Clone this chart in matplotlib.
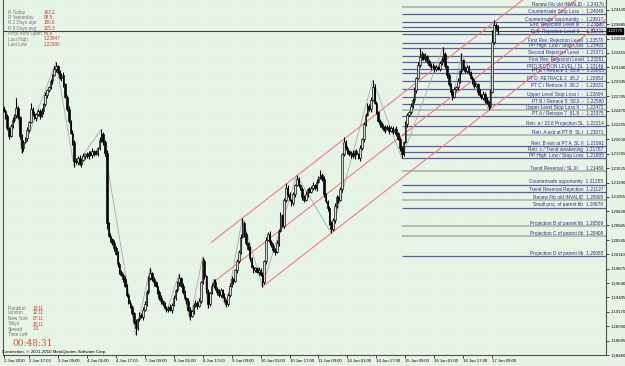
import numpy as np
import matplotlib.pyplot as plt

plt.rcParams['font.family'] = ['Liberation Sans', 'DejaVu Sans']

BASE = 1.18  # prices below are pips above this

# hourly closes, 2 Jun 2010 03:00 .. 17 Jun 2010 12:00
close_pips = [
    447, 438, 418, 405, 422, 432, 440, 452, 436, 405,
    385, 395, 402, 415, 428, 450, 442, 435, 441, 446,
    438, 447, 458, 472, 480, 486, 495, 505, 515, 520,
    510, 500, 505, 490, 470, 450, 430, 410, 395, 365,
    362, 370, 360, 366, 372, 375, 372, 378, 374, 380,
    376, 378, 385, 398, 408, 395, 378, 262, 242, 236,
    230, 222, 212, 195, 182, 178, 170, 160, 145, 132,
    125, 115, 100, 90, 105, 112, 108, 120, 130, 150,
    172, 180, 170, 165, 160, 150, 140, 135, 130, 123,
    120, 125, 120, 128, 140, 152, 165, 172, 160, 150,
    140, 135, 120, 110, 118, 128, 132, 126, 135, 165,
    200, 175, 150, 130, 148, 160, 165, 155, 150, 145,
    152, 142, 135, 130, 145, 160, 170, 168, 185, 200,
    215, 240, 262, 245, 230, 220, 205, 190, 185, 188,
    182, 186, 178, 165, 200, 235, 245, 232, 225, 218,
    215, 230, 250, 275, 258, 300, 320, 310, 300, 295,
    310, 325, 335, 325, 318, 305, 300, 310, 318, 314,
    320, 325, 320, 330, 338, 342, 335, 310, 298, 288,
    262, 252, 268, 290, 305, 300, 318, 375, 395, 385,
    380, 375, 378, 372, 380, 376, 370, 385, 400, 425,
    440, 455, 450, 465, 485, 460, 445, 430, 425, 420,
    415, 420, 418, 414, 418, 412, 416, 410, 400, 385,
    375, 395, 425, 440, 445, 455, 465, 480, 500, 522,
    535, 540, 532, 536, 528, 522, 518, 520, 515, 518,
    516, 525, 532, 540, 520, 505, 490, 478, 470, 482,
    485, 495, 512, 530, 515, 512, 518, 510, 500, 495,
    488, 490, 478, 472, 468, 475, 465, 460, 455, 478,
    560, 588, 582, 578,
]
first_open = 452
wick_up = ("3242352432 4325243524 3425324253 2435234253 4243524325 3425243524 "
           "2435342523 4325243542 3524253423 4253423524 3245234253 2435243524 "
           "4253245324 3524325243 2435243524 3425342532 4253243524 3524253423 "
           "2435324253 4325342524 3524253243 2435342523 4253243524 3425243524 "
           "2435324253 3524253423 4325243524 3425342532")
wick_dn = ("2435243524 3425324253 4253423524 3245234253 2435243524 4253245324 "
           "3524325243 2435342523 4325243542 3425243524 3524253423 2435324253 "
           "4325342524 3425324253 2435342523 4253243524 3524253243 2435243524 "
           "3425342532 4253423524 3245234253 2435243524 4325243542 3524325243 "
           "2435342523 3425243524 4253245324 2435243524")
high_spikes = {7: 468, 15: 460, 29: 527, 54: 416, 81: 189, 97: 179, 110: 207,
               116: 170, 132: 271, 156: 329, 162: 341, 175: 349, 188: 403,
               204: 497, 230: 550, 243: 551, 253: 541, 270: 579, 271: 596}
low_spikes = {10: 377, 39: 354, 57: 252, 73: 79, 103: 103, 113: 123, 123: 125,
              143: 158, 150: 210, 179: 282, 181: 246, 220: 369, 248: 464, 268: 448}

# zigzag pivots
zz_bars = [7, 10, 29, 39, 54, 73, 81, 90, 97, 103, 110, 113, 116, 123, 132,
           143, 162, 181, 204, 220, 243, 248, 253, 268, 271]
zz_kind = "HLHLHLHLHLHLHLHLHLHLHLHLH"

# regression channel: anchor bar/pips, slope (pips per bar), offsets, start bars
chan_anchor = (143, 158)
chan_slope = 2.311
chan_offsets = [0, 70, 138]
chan_start = [143, 117, 115]

date_bars = [0, 14, 30, 46, 62, 78, 94, 110, 126, 142, 158, 174, 190, 206,
             222, 238, 254, 270]
date_labels = ["2 Jun 2010", "2 Jun 17:00", "3 Jun 09:00", "4 Jun 01:00",
               "4 Jun 17:00", "7 Jun 09:00", "8 Jun 01:00", "8 Jun 17:00",
               "9 Jun 09:00", "10 Jun 01:00", "10 Jun 17:00", "11 Jun 09:00",
               "14 Jun 01:00", "14 Jun 17:00", "15 Jun 09:00", "16 Jun 01:00",
               "16 Jun 17:00", "17 Jun 09:00"]
price_ticks = [1.24120, 1.23885, 1.23650, 1.23415, 1.23180, 1.22945, 1.22705,
               1.22470, 1.22235, 1.22000, 1.21765, 1.21525, 1.21290, 1.21055,
               1.20820, 1.20585, 1.20345, 1.20110, 1.19875, 1.19640, 1.19405,
               1.19170, 1.18930, 1.18695, 1.18460]
bid = 1.23775

level_names = [
    "Renew Fib old INVALID - 1.24170", "Countertrade Stop Loss  -  1.24049",
    "Countertrade opportunity  -  1.23917", "Extr. Rejection Level III  -  1.23836",
    "Extr. Rejection Level II  -  1.23721", "First Rev. Rejection Level  1.23578",
    "PP High  Low / Stop Loss  1.23491", "Second Rejection Level  -  1.23371",
    "First Rev. Rejection Level  1.23261", "PROJECTION LEVEL / SL  1.23146",
    "PT E / Retrace 1  23.6  -  1.23085", "PT D  RETRACE 2  38.2  -  1.22953",
    "PT C / Retrace 3  38.2  -  1.22831", "Upper Level Stop Loss I  -  1.22694",
    "PT B / Retrace 5  50.0  -  1.22580", "Upper Level Stop Loss II  -  1.22472",
    "PT A / Retrace 7  61.8  -  1.22375", "Retr. a / 23.6 Projection SL  1.22214",
    "Retr. A exit at PT B  SL I  1.22071", "Retr. B exit at PT A  SL II  1.21891",
    "Retr. c / Trend weakening  1.21787", "PP High  Low / Stop Loss  1.21685",
    "Trend Reversal / SL III      1.21480", "Countertrade opportunity  1.21255",
    "Trend Reversal Rejection  1.21127", "Renew Fib old INVALID  1.20995",
    "Small proj. of parent fib  1.20878", "Projection B of parent fib  1.20569",
    "Projection C of parent fib  1.20409", "Projection D of parent fib  1.20085",
]
level_prices = [1.24170, 1.24049, 1.23917, 1.23836, 1.23721, 1.23578, 1.23491,
                1.23371, 1.23261, 1.23146, 1.23085, 1.22953, 1.22831, 1.22694,
                1.22580, 1.22472, 1.22375, 1.22214, 1.22071, 1.21891, 1.21787,
                1.21685, 1.21480, 1.21255, 1.21127, 1.20995, 1.20878, 1.20569,
                1.20409, 1.20085]
level_grey = [1, 0, 0, 0, 0, 0, 0, 0, 0, 0, 0, 0, 0, 0, 0, 1, 0, 0, 1, 0, 0,
              0, 1, 0, 0, 1, 0, 1, 1, 0]
level_start = 220.4

info_names = ["R Today", "R Yesterday", "R 2 Days ago", "R 5 Days avg",
              "Price from Open", "Last High", "Last Low"]
info_values = ["163.2", "98.5", "180.6", "125.3", "66.9", "1.23947", "1.22900"]
clock_names = ["Frankfurt", "London", "New York", "Tokyo", "Spread", "Time Left"]
clock_values = ["13:11", "12:11", "07:11", "20:11", "1.0", ""]
time_left = "00:48:31"

# ---- candles
c = np.array(close_pips, float)
o = np.concatenate([[first_open], c[:-1]])
wu = np.array([int(d) for d in wick_up.replace(" ", "")][:len(c)], float)
wd = np.array([int(d) for d in wick_dn.replace(" ", "")][:len(c)], float)
h = np.maximum(o, c) + wu
l = np.minimum(o, c) - wd
for k, v in high_spikes.items():
    h[k] = max(h[k], v)
for k, v in low_spikes.items():
    l[k] = min(l[k], v)
O, H, L, C = [BASE + a / 10000 for a in (o, h, l, c)]
idx = np.arange(len(c))

bg = '#e6f4e6'
fig = plt.figure(figsize=(6.25, 3.66), dpi=100, facecolor=bg)
ax = fig.add_axes([0.004, 0.030, 0.966, 0.970], facecolor=bg)
ax.set_xlim(-0.6, 333)
ax.set_ylim(1.18460, 1.24284)

ax.grid(True, color='#f6fcf6', linestyle=':', linewidth=0.4)
ax.set_axisbelow(True)

# level lines
for name, p, g in zip(level_names, level_prices, level_grey):
    col = '#b4b4b4' if g else '#5c5ca4'
    ax.hlines(p, level_start, 333, color=col, lw=1.3 if g else 0.9, zorder=2)
    ax.text(331.5, p + 0.00004, name, ha='right', va='bottom', fontsize=3.4,
            color='#30307c', zorder=6)

# bid line
ax.axhline(bid, color='#404040', lw=0.8, zorder=2)

# channel
for off, st in zip(chan_offsets, chan_start):
    x0 = np.array([st, 333])
    yy = BASE + (chan_anchor[1] + off + chan_slope * (x0 - chan_anchor[0])) / 10000
    ax.plot(x0, yy, color='#f07c7c', lw=0.8, zorder=3)

# zigzag
zz_p = [H[b] if k == 'H' else L[b] for b, k in zip(zz_bars, zz_kind)]
ax.plot(zz_bars, zz_p, color='#a8a8a8', lw=0.6, zorder=3)

# candles
ax.vlines(idx, L, H, color='black', lw=0.75, zorder=4)
up = C >= O
body = np.maximum(np.abs(C - O), 0.00003)
ax.bar(idx[up], body[up], bottom=np.minimum(O, C)[up], width=0.85,
       color='#d8d8d8', edgecolor='black', lw=0.45, zorder=5)
ax.bar(idx[~up], body[~up], bottom=np.minimum(O, C)[~up], width=0.85,
       color='black', edgecolor='black', lw=0.45, zorder=5)

# axes
ax.spines['top'].set_visible(False)
for s in ['left', 'right', 'bottom']:
    ax.spines[s].set_color('#505050')
    ax.spines[s].set_linewidth(0.8)
ax.yaxis.tick_right()
ax.set_yticks(price_ticks)
ax.set_yticklabels([f"{v:.5f}" for v in price_ticks])
ax.tick_params(axis='y', length=2, width=0.5, pad=0.8, labelsize=3.1, colors='black')
ax.set_xticks(date_bars)
ax.set_xticklabels(date_labels, ha='left')
ax.tick_params(axis='x', length=2, width=0.5, pad=1, labelsize=3.1)
ax.text(1.002, bid, f"{bid:.5f}", transform=ax.get_yaxis_transform(),
        ha='left', va='center', fontsize=3.1, color='white',
        bbox=dict(boxstyle='square,pad=0.15', fc='black', ec='black'))

def px(x, y):
    return x / 625, 1 - y / 366

info_y = [12.7, 17.7, 22.7, 28.3, 33.3, 39, 44]
for yy, n, v in zip(info_y, info_names, info_values):
    fig.text(*px(8, yy), n, fontsize=3.3, color='#707070', va='center')
    fig.text(*px(44, yy), v, fontsize=3.3, color='#b04030', va='center')

clock_y = [308, 313, 319, 324, 329, 334]
for yy, n, v in zip(clock_y, clock_names, clock_values):
    fig.text(*px(8, yy), n, fontsize=3.3, color='#707070', va='center')
    fig.text(*px(33, yy), v, fontsize=3.3, color='#b04030', va='center')
fig.text(*px(12, 343), time_left, fontsize=6.5, color='#d05030', va='center',
         family='DejaVu Serif')
fig.text(*px(2, 351.5), "Connection, \u00a9 2001-2010 MetaQuotes Software Corp.",
         fontsize=3.2, color='black', va='center')

fig.savefig("out.png", dpi=100, facecolor=bg)
